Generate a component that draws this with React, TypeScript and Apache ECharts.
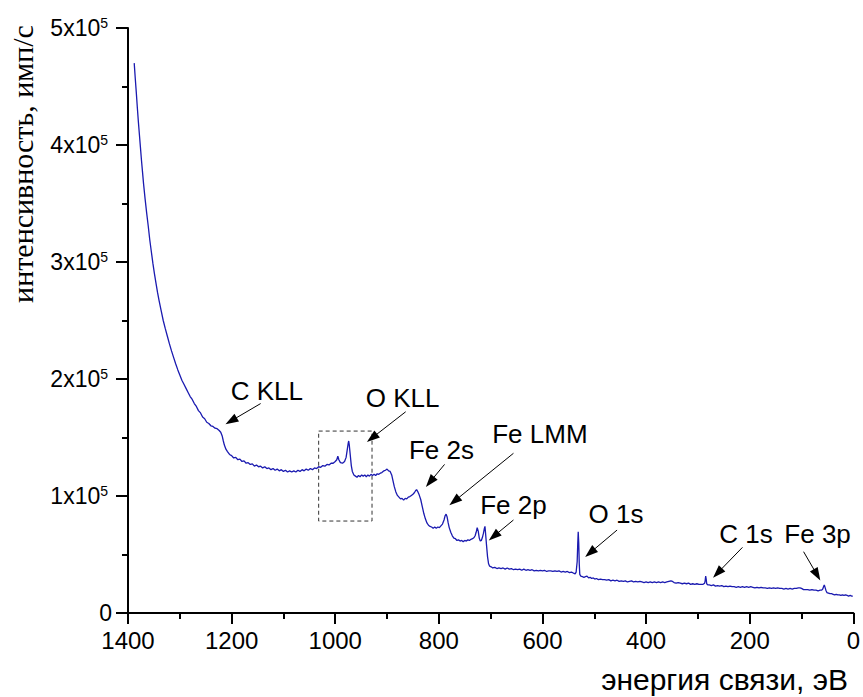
import React, { useEffect, useRef } from "react";
import * as echarts from "echarts";

// [binding energy, eV ; intensity, 10^3 counts/s]
const spectrum: [number, number][] = [
  [1388, 470], [1386, 457], [1384, 445], [1382, 432], [1380, 420], [1378, 409], [1376, 398], [1374, 387],
  [1372, 377], [1370, 367], [1367, 354], [1364, 342], [1361, 331], [1358, 319], [1355, 309], [1352, 299],
  [1349, 290], [1346, 282], [1343, 274], [1340, 267], [1336, 258.5], [1332, 250], [1328, 243], [1324, 236.5],
  [1320, 230], [1316, 224], [1312, 218.5], [1308, 213], [1304, 208], [1300, 203.5], [1296, 199], [1292, 195.5],
  [1288, 192], [1284, 188.5], [1280, 185], [1276, 182.5], [1272, 179], [1268, 176.5], [1264, 173], [1260, 171],
  [1256, 167.5], [1252, 166], [1248, 163], [1244, 162], [1240, 160], [1236, 159.5], [1232, 158], [1228, 157.5],
  [1224, 156], [1221, 154.5], [1218, 151], [1216, 147], [1214, 143.5], [1211, 140], [1208, 138], [1204, 135.5],
  [1200, 134.5], [1196, 132.5], [1192, 133], [1188, 131], [1184, 131.5], [1180, 129.5], [1176, 130], [1172, 128],
  [1168, 128.5], [1164, 127], [1160, 127.5], [1156, 125.5], [1152, 126.5], [1148, 125], [1144, 125.5], [1140, 124],
  [1136, 125], [1132, 123.5], [1128, 124], [1124, 122.5], [1120, 123.5], [1116, 122], [1112, 123], [1108, 121.5],
  [1104, 122.5], [1100, 121], [1096, 122], [1092, 120.5], [1088, 121.5], [1084, 120.5], [1080, 121.5], [1076, 120.5],
  [1072, 122], [1068, 121], [1064, 122.5], [1060, 121.5], [1056, 123], [1052, 122], [1048, 123.5], [1044, 122.5],
  [1040, 124], [1036, 123.5], [1032, 125], [1028, 124.5], [1024, 126], [1020, 125.5], [1016, 127], [1012, 126.5],
  [1008, 128], [1004, 128], [1000, 129.5], [997, 131], [995, 134], [993, 131], [990, 128.5], [986, 128],
  [982, 129.5], [979, 133], [977, 139], [975, 145], [974, 147], [973, 144], [971, 135], [969, 126],
  [967, 121], [964, 118], [961, 117], [958, 116], [955, 117.5], [952, 116.5], [949, 118], [946, 117],
  [943, 118], [940, 116.5], [937, 118], [934, 117], [931, 118.5], [928, 117.5], [925, 118.5], [922, 117.5],
  [919, 119], [916, 118.5], [913, 119.5], [910, 120], [906, 121.5], [903, 122], [900, 123], [897, 121.5],
  [894, 121], [891, 118], [889, 114], [886, 108], [883, 103.5], [880, 100.5], [877, 99], [874, 97.5],
  [871, 98], [868, 96.5], [865, 98], [862, 97.5], [859, 99], [856, 99.5], [853, 100.5], [850, 101.5],
  [847, 103], [845, 104.5], [843, 105.5], [841, 104], [838, 101], [835, 97], [832, 91], [829, 85],
  [826, 80.5], [823, 77], [820, 75], [817, 74], [814, 73.5], [811, 72.5], [808, 73.5], [805, 72.5],
  [802, 73.5], [799, 73], [796, 74.5], [793, 76], [790, 79.5], [788, 83], [786, 84.5], [784, 82],
  [782, 77], [780, 73], [777, 69], [774, 66], [771, 64], [768, 63.5], [765, 62], [762, 62.5],
  [759, 61.5], [756, 62], [753, 61], [750, 62], [747, 61.5], [744, 62.5], [741, 62], [738, 63],
  [735, 63.5], [732, 64.5], [730, 66], [728, 69], [726, 73], [724, 70], [722, 64], [720, 61.5],
  [718, 62], [716, 64.5], [714, 68], [712, 72.5], [711, 74], [710, 69], [708, 58], [706, 48],
  [704, 42], [702, 40], [699, 39.5], [696, 38.5], [692, 39], [688, 38], [684, 38.5], [680, 38],
  [676, 38.5], [672, 37.5], [668, 38.5], [664, 37.5], [660, 38], [656, 37], [652, 37.5], [648, 37],
  [644, 37.5], [640, 36.5], [636, 37.5], [632, 36.5], [628, 37], [624, 36.5], [620, 37], [616, 36],
  [612, 36.5], [608, 36], [604, 36.5], [600, 36], [596, 36.5], [592, 35.5], [588, 36], [584, 36],
  [580, 35.5], [576, 36], [572, 35.5], [568, 36], [564, 35], [560, 35.5], [556, 35], [552, 35.5],
  [548, 34.5], [544, 35], [540, 34], [537, 33.5], [535, 35], [533, 44], [532, 58], [531, 69.5],
  [530, 60], [529, 42], [528, 33], [526, 31.5], [523, 31], [520, 30.5], [517, 31], [514, 31.5],
  [511, 30], [508, 30.5], [505, 29.5], [502, 30], [499, 29], [496, 29.5], [492, 28.5], [488, 29],
  [484, 28.5], [480, 28.5], [476, 28], [472, 28.5], [468, 27.5], [464, 28], [460, 27.5], [456, 28],
  [452, 27], [448, 27.5], [444, 27], [440, 27.5], [436, 26.5], [432, 27], [428, 27.5], [424, 26.5],
  [420, 27], [416, 26.5], [412, 27], [408, 26.5], [404, 26], [400, 26.5], [396, 26], [392, 26.5],
  [388, 26], [384, 26.5], [380, 26], [376, 26.5], [372, 26], [368, 26.5], [364, 26], [360, 26.5],
  [356, 27], [352, 27.5], [349, 27], [346, 26], [342, 25.5], [338, 26], [334, 25.5], [330, 25],
  [326, 25.5], [322, 25], [318, 25.5], [314, 24.5], [310, 25], [306, 24.5], [302, 25], [298, 24.5],
  [294, 24.5], [290, 24.5], [287, 25.5], [286, 27.5], [285, 31.5], [284, 29], [283, 25], [281, 24],
  [278, 24], [274, 23.5], [270, 24], [266, 23], [262, 23.5], [258, 23], [254, 23.5], [250, 22.5],
  [246, 23], [242, 22.5], [238, 23], [234, 22.5], [230, 22.5], [226, 22], [222, 22.5], [218, 22],
  [214, 22.5], [210, 22], [206, 22.5], [202, 22], [198, 22.5], [194, 22], [190, 21.5], [186, 22],
  [182, 21.5], [178, 22], [174, 21.5], [170, 21.5], [166, 21], [162, 21.5], [158, 21], [154, 21.5],
  [150, 21], [146, 21.5], [142, 21], [138, 21], [134, 20.5], [130, 21], [126, 20.5], [122, 21],
  [118, 20.5], [114, 21], [110, 21], [106, 21.5], [103, 21.5], [100, 21], [96, 20], [92, 20],
  [88, 20], [84, 19.5], [80, 20], [76, 19.5], [72, 19.5], [68, 19], [64, 19.5], [61, 19.5],
  [59, 20.5], [57, 23], [56, 24], [55, 22.5], [53, 19.5], [51, 17.5], [48, 17], [45, 16.5],
  [42, 16.5], [39, 16], [36, 15.5], [33, 16], [30, 15.5], [27, 15.5], [24, 15], [21, 15.5],
  [18, 15], [15, 15.5], [12, 15], [9, 14.5], [6, 15], [3, 14.5], [1, 14.5],
];

const xTicks = [0, 200, 400, 600, 800, 1000, 1200, 1400];
const yTicks = [0, 100000, 200000, 300000, 400000, 500000];

// peak annotations (binding energy, 10^3 counts/s)
const peakNames = ["C KLL", "O KLL", "Fe 2s", "Fe LMM", "Fe 2p", "O 1s", "C 1s", "Fe 3p"];
const peakLabelAt: [number, number][] = [
  [1132, 189.7], [870, 183.8], [795, 139.3], [605, 153], [656, 92.3], [458, 84.6], [207, 67.5], [69, 67.5],
];
const arrowFrom: [number, number][] = [
  [1144, 179], [864, 172], [789, 127], [656, 136.5], [656, 79.5], [456, 70.9], [214, 56.1], [96, 52.4],
];
const arrowTo: [number, number][] = [
  [1201, 164.2], [929, 149.6], [817, 112], [770, 95.6], [694, 65.6], [508, 51.5], [262, 34.2], [70, 32.6],
];
const oKllBox: [number, number][] = [[1032, 155.5], [929, 78.6]];

const K = 1000;

export default function App() {
  const ref = useRef<HTMLDivElement>(null);
  useEffect(() => {
    if (!ref.current) return;
    const chart = echarts.init(ref.current, undefined, { renderer: "svg" });
    const sans = "Liberation Sans";
    chart.setOption({
      animation: false,
      backgroundColor: "#ffffff",
      grid: { left: 128, right: 8, top: 28, bottom: 84, containLabel: false },
      xAxis: {
        type: "value",
        inverse: true,
        min: xTicks[0],
        max: xTicks[xTicks.length - 1],
        interval: 200,
        axisLine: { show: true, onZero: false, lineStyle: { color: "#000", width: 2 } },
        axisTick: { show: true, length: 11, lineStyle: { color: "#000", width: 2 } },
        minorTick: { show: true, splitNumber: 2, length: 6, lineStyle: { color: "#000", width: 2 } },
        splitLine: { show: false },
        axisLabel: {
          color: "#000",
          fontSize: 24,
          fontFamily: sans,
          margin: 15,
          formatter: (v: number) => String(v),
        },
      },
      yAxis: {
        type: "value",
        min: yTicks[0],
        max: yTicks[yTicks.length - 1],
        interval: 100000,
        axisLine: { show: true, onZero: false, lineStyle: { color: "#000", width: 2 } },
        axisTick: { show: true, length: 12, lineStyle: { color: "#000", width: 2 } },
        minorTick: { show: true, splitNumber: 2, length: 6, lineStyle: { color: "#000", width: 2 } },
        splitLine: { show: false },
        axisLabel: {
          margin: 16,
          formatter: (v: number) => (v === 0 ? "{z|0}" : `{b|${v / 100000}x10}{s|5}`),
          rich: {
            z: { fontSize: 23, fontFamily: sans, color: "#000" },
            b: { fontSize: 23, fontFamily: sans, color: "#000", lineHeight: 25 },
            s: { fontSize: 14, fontFamily: sans, color: "#000", verticalAlign: "top", lineHeight: 14, padding: [0, 4, 0, 0] },
          },
        },
      },
      graphic: [
        {
          type: "text",
          x: 22,
          y: 164,
          rotation: Math.PI / 2,
          style: {
            text: "интенсивность, имп/с",
            font: '30px "Liberation Serif"',
            fill: "#000",
            textAlign: "center",
            textVerticalAlign: "middle",
            align: "center",
            verticalAlign: "middle",
          },
        },
        {
          type: "text",
          x: 848,
          y: 679,
          style: {
            text: "энергия связи, эВ",
            font: '30px "Liberation Sans"',
            fill: "#000",
            textAlign: "right",
            textVerticalAlign: "middle",
            align: "right",
            verticalAlign: "middle",
          },
        },
      ],
      series: [
        {
          type: "line",
          data: spectrum.map(([e, v]) => [e, v * K]),
          showSymbol: false,
          symbol: "none",
          lineStyle: { color: "#1a1ab0", width: 1.3 },
          silent: true,
          markLine: {
            silent: true,
            symbol: ["none", "triangle"],
            symbolSize: [9, 13],
            lineStyle: { color: "#000", width: 1, type: "solid" },
            label: { show: false },
            data: arrowFrom.map((f, i) => [
              { coord: [f[0], f[1] * K] },
              { coord: [arrowTo[i][0], arrowTo[i][1] * K] },
            ]),
          },
          markPoint: {
            silent: true,
            symbol: "rect",
            symbolSize: 1,
            itemStyle: { color: "rgba(0,0,0,0)" },
            label: {
              show: true,
              position: "inside",
              color: "#000",
              fontSize: 26,
              fontFamily: sans,
              formatter: (p: any) => p.name,
            },
            data: peakNames.map((n, i) => ({ name: n, coord: [peakLabelAt[i][0], peakLabelAt[i][1] * K] })),
          },
          markArea: {
            silent: true,
            itemStyle: { color: "rgba(0,0,0,0)", borderColor: "#333", borderWidth: 1, borderType: [4, 3] },
            data: [[{ coord: [oKllBox[0][0], oKllBox[0][1] * K] }, { coord: [oKllBox[1][0], oKllBox[1][1] * K] }]],
          },
        },
      ],
    });
    return () => chart.dispose();
  }, []);
  return (
    <div
      ref={ref}
      style={{ position: "fixed", left: 0, top: 0, width: 863, height: 697, background: "#fff" }}
    />
  );
}
